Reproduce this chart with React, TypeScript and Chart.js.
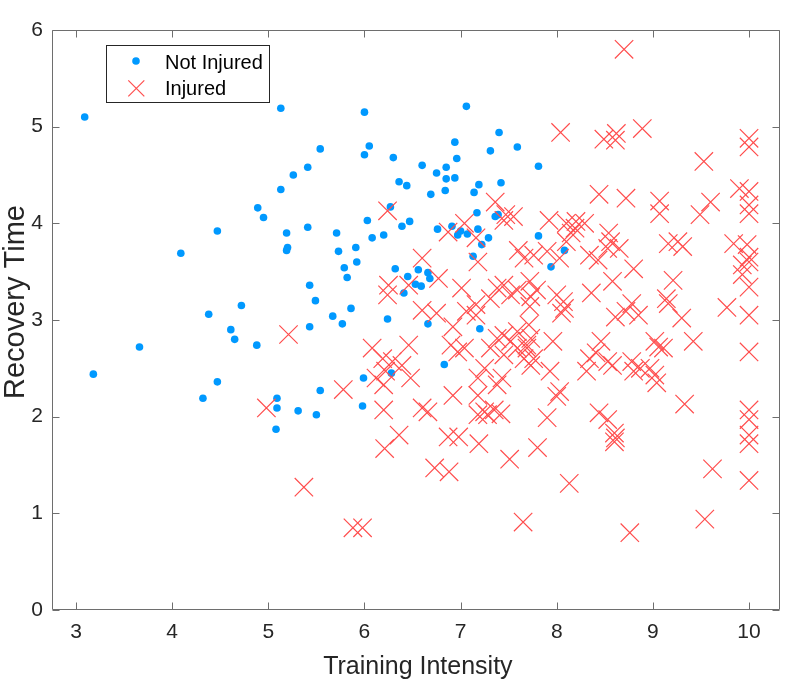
import React, { useEffect, useRef } from 'react';
import { Chart, registerables } from 'chart.js';

Chart.register(...registerables);

// Training intensity / recovery time of athletes who stayed healthy
const notInjuredX = [
  3.09, 5.13, 5.26, 5.13, 4.89, 4.95, 6.0, 7.06, 7.4, 6.05, 6.0, 5.54, 5.41, 6.94, 6.96, 7.31, 7.59,
  6.3, 6.6, 6.75, 6.85, 6.85, 6.94, 6.36, 6.44, 6.69, 6.84, 7.14, 7.19, 7.42, 6.27, 6.03, 6.47,
  7.17, 7.36, 7.39, 5.41, 6.39, 4.47, 5.19, 5.2, 5.19, 4.09, 4.72, 4.38, 4.61, 4.65, 4.88, 3.66,
  3.18, 4.47, 4.32, 5.09, 5.09, 5.31, 5.08, 5.71, 6.08, 6.2, 5.73, 5.91, 5.92, 5.79, 5.82, 5.43,
  5.49, 5.67, 5.77, 5.86, 5.43, 6.24, 6.32, 6.45, 6.56, 6.66, 6.68, 6.53, 6.59, 6.41, 6.66, 6.83,
  6.28, 5.99, 5.54, 5.5, 5.98, 6.76, 6.91, 6.97, 7.0, 7.07, 7.18, 7.29, 7.22, 7.13, 7.2, 7.81,
  8.08, 7.94, 7.81,
];
const notInjuredY = [
  5.1, 5.19, 4.5, 4.35, 4.16, 4.06, 5.15, 5.21, 4.94, 4.8, 4.71, 4.77, 4.58, 4.84, 4.67, 4.75, 4.79,
  4.68, 4.6, 4.52, 4.58, 4.46, 4.47, 4.43, 4.39, 4.3, 4.34, 4.32, 4.4, 4.42, 4.17, 4.03, 4.02,
  4.11, 4.07, 4.09, 3.96, 3.97, 3.92, 3.9, 3.75, 3.72, 3.69, 3.15, 3.06, 2.9, 2.8, 2.74, 2.72,
  2.44, 2.36, 2.19, 2.19, 2.09, 2.06, 1.87, 3.9, 3.85, 3.88, 3.71, 3.75, 3.6, 3.54, 3.44, 3.36,
  3.2, 3.04, 2.96, 3.12, 2.93, 3.01, 3.53, 3.45, 3.52, 3.49, 3.43, 3.37, 3.35, 3.28, 2.96, 2.54,
  2.45, 2.4, 2.27, 2.02, 2.11, 3.94, 3.97, 3.88, 3.92, 3.89, 3.94, 3.85, 3.78, 3.66, 2.91, 3.87,
  3.72, 3.55, 4.59,
];

// Athletes who got injured
const injuredX = [
  6.24, 7.36, 7.47, 7.55, 8.7, 8.04, 8.49, 8.62, 8.61, 8.89, 10.0, 10.0, 9.53, 8.44, 8.72, 9.07,
  9.07, 9.6, 9.49, 9.9, 10.0, 10.0, 10.0, 7.92, 8.1, 8.2, 8.29, 5.21, 4.98, 5.37, 6.6, 6.77, 6.25,
  6.24, 6.46, 6.6, 6.75, 7.01, 7.16, 7.16, 6.92, 6.87, 7.04, 7.16, 7.18, 7.45, 7.6, 7.38, 7.45,
  7.52, 7.31, 7.59, 7.72, 6.97, 6.9, 7.04, 7.38, 7.45, 7.52, 7.59, 7.31, 7.45, 7.59, 7.69, 7.25,
  7.18, 7.43, 7.38, 7.66, 6.08, 6.19, 6.29, 6.22, 6.39, 6.46, 6.48, 6.12, 6.2, 5.78, 6.92, 7.18,
  6.6, 6.66, 6.2, 7.25, 7.35, 7.18, 7.28, 7.42, 6.36, 6.21, 6.87, 6.98, 7.19, 6.73, 6.88, 7.51,
  5.88, 5.98, 7.65, 7.8, 7.9, 8.44, 8.53, 8.6, 8.61, 8.6, 9.33, 10.0, 10.0, 10.0, 10.0, 8.13, 9.62,
  10.0, 9.54, 8.76, 8.19, 8.15, 8.1, 7.9, 8.03, 8.34, 8.43, 8.54, 8.56, 8.65, 8.53, 8.8, 8.58,
  8.36, 7.79, 7.73, 8.07, 8.08, 8.05, 8.0, 9.16, 9.26, 9.31, 9.21, 9.14, 9.16, 9.3, 8.78, 8.72,
  8.85, 8.61, 9.77, 9.84, 9.98, 10.0, 9.93, 10.0, 9.93, 10.0, 10.0, 10.0, 9.42, 9.02, 9.11, 9.06,
  8.8, 8.87, 8.97, 9.02, 9.04, 8.78, 8.46, 8.41, 8.34, 8.53, 8.58, 8.31, 7.96, 7.73, 7.69, 7.76,
  7.73, 7.93, 8.03, 8.0, 7.66, 7.76, 7.72, 7.71, 7.06,
];
const injuredY = [
  4.13, 4.22, 4.09, 4.07, 5.8, 4.94, 4.87, 4.93, 4.86, 4.98, 4.88, 4.79, 4.64, 4.3, 4.26, 4.23,
  4.1, 4.22, 4.09, 4.36, 4.33, 4.19, 4.1, 4.03, 4.0, 4.02, 4.0, 2.85, 2.09, 1.27, 3.64, 3.43, 3.36,
  3.26, 3.36, 3.1, 3.07, 3.33, 3.16, 3.05, 2.93, 3.91, 4.0, 3.85, 3.6, 4.03, 3.72, 3.33, 3.36,
  3.26, 3.22, 3.31, 3.4, 2.67, 2.74, 2.71, 2.81, 2.84, 2.78, 2.88, 2.71, 2.64, 2.71, 2.74, 2.5,
  2.4, 2.4, 2.33, 2.6, 2.71, 2.6, 2.57, 2.47, 2.53, 2.74, 2.4, 2.4, 2.33, 2.28, 2.22, 2.22,
  2.09, 2.05, 2.07, 2.05, 2.07, 2.02, 2.02, 2.03, 1.81, 1.67, 1.79, 1.79, 1.72, 1.47, 1.43, 1.56,
  0.85, 0.85, 0.91, 1.68, 1.99, 2.04, 1.97, 1.83, 1.78, 1.74, 2.13, 2.07, 1.97, 1.81, 1.72, 1.31, 1.46,
  1.34, 0.94, 0.8, 3.95, 3.9, 3.81, 3.71, 3.64, 3.67, 3.62, 3.9, 3.81, 3.74, 3.74, 3.53, 3.4,
  3.28, 3.31, 3.24, 3.19, 3.12, 3.07, 3.26, 3.79, 3.81, 3.76, 3.41, 3.22, 3.17, 3.02, 3.17, 3.09,
  3.05, 3.03, 3.13, 3.79, 3.78, 3.65, 3.57, 3.6, 3.47, 3.34, 3.05, 2.67, 2.78, 2.78, 2.71, 2.72,
  2.47, 2.5, 2.5, 2.43, 2.35, 2.57, 2.78, 2.66, 2.6, 2.57, 2.53, 2.47, 2.78, 2.81, 2.71, 2.6,
  2.53, 2.47, 2.26, 2.21, 3.64, 3.67, 3.14, 2.95, 3.09,
];

const xTicks = [3, 4, 5, 6, 7, 8, 9, 10];
const yTicks = [0, 1, 2, 3, 4, 5, 6];
const seriesNames = ['Not Injured', 'Injured'];
const xTitle = 'Training Intensity';
const yTitle = 'Recovery Time';

const FONT = "'Liberation Sans', Arial, Helvetica, sans-serif";
const TEXT = '#262626';
const BLUE = '#0099ff';
const RED = 'rgb(255, 78, 78)';

const toPoints = (xs: number[], ys: number[]) => xs.map((x, i) => ({ x, y: ys[i] }));

// Boxed axes with inward tick marks, axis titles and an inset legend
const framePlugin = {
  id: 'frame',
  afterDatasetsDraw(chart: any) {
    const { ctx, chartArea, scales } = chart;
    const { left, right, top, bottom } = chartArea;
    const L = Math.round(left) + 0.5;
    const R = Math.round(right) - 0.5;
    const T = Math.round(top) + 0.5;
    const B = Math.round(bottom) - 0.5;
    const tl = 7;
    ctx.save();
    ctx.strokeStyle = '#6e6e6e';
    ctx.lineWidth = 1;
    ctx.beginPath();
    ctx.rect(L, T, R - L, B - T);
    for (const v of xTicks) {
      const px = Math.round(scales.x.getPixelForValue(v)) + 0.5;
      ctx.moveTo(px, B);
      ctx.lineTo(px, B - tl);
      ctx.moveTo(px, T);
      ctx.lineTo(px, T + tl);
    }
    for (const v of yTicks) {
      const py = Math.round(scales.y.getPixelForValue(v)) + 0.5;
      ctx.moveTo(L, py);
      ctx.lineTo(L + tl, py);
      ctx.moveTo(R, py);
      ctx.lineTo(R - tl, py);
    }
    ctx.stroke();

    // axis titles
    ctx.fillStyle = TEXT;
    ctx.font = `25px ${FONT}`;
    ctx.textAlign = 'center';
    ctx.textBaseline = 'alphabetic';
    ctx.fillText(xTitle, (left + right) / 2 + 2, 674);
    ctx.save();
    ctx.translate(24, 302);
    ctx.rotate(-Math.PI / 2);
    ctx.font = `29px ${FONT}`;
    ctx.fillText(yTitle, 0, 0);
    ctx.restore();

    // legend
    const bx = 106.5, by = 45.5, bw = 163, bh = 57;
    ctx.fillStyle = '#ffffff';
    ctx.fillRect(bx, by, bw, bh);
    ctx.strokeStyle = TEXT;
    ctx.lineWidth = 1;
    ctx.strokeRect(bx, by, bw, bh);

    ctx.fillStyle = BLUE;
    ctx.beginPath();
    ctx.arc(136, 61, 3.8, 0, Math.PI * 2);
    ctx.fill();

    ctx.strokeStyle = RED;
    ctx.lineWidth = 1.2;
    ctx.beginPath();
    const cx = 136.3, cy = 88.3, h = 8;
    ctx.moveTo(cx - h, cy - h);
    ctx.lineTo(cx + h, cy + h);
    ctx.moveTo(cx + h, cy - h);
    ctx.lineTo(cx - h, cy + h);
    ctx.stroke();

    ctx.fillStyle = '#000000';
    ctx.font = `20px ${FONT}`;
    ctx.textAlign = 'left';
    ctx.fillText(seriesNames[0], 165, 69);
    ctx.fillText(seriesNames[1], 165, 95);
    ctx.restore();
  },
};

export default function App() {
  const canvasRef = useRef<HTMLCanvasElement | null>(null);

  useEffect(() => {
    const canvas = canvasRef.current;
    if (!canvas) return;
    const chart = new Chart(canvas, {
      type: 'scatter',
      data: {
        datasets: [
          {
            label: seriesNames[0],
            data: toPoints(notInjuredX, notInjuredY),
            pointStyle: 'circle',
            pointRadius: 3.8,
            pointBackgroundColor: BLUE,
            pointBorderColor: BLUE,
            pointBorderWidth: 0,
            borderColor: BLUE,
            backgroundColor: BLUE,
            order: 1,
          },
          {
            label: seriesNames[1],
            data: toPoints(injuredX, injuredY),
            pointStyle: 'crossRot',
            pointRadius: 13,
            pointBorderColor: RED,
            pointBackgroundColor: RED,
            pointBorderWidth: 1.2,
            borderColor: RED,
            backgroundColor: RED,
            order: 0,
          },
        ],
      },
      options: {
        responsive: false,
        animation: false,
        events: [],
        layout: { padding: { top: 30, right: 4, left: 0, bottom: 0 } },
        plugins: { legend: { display: false }, tooltip: { enabled: false } },
        scales: {
          x: {
            type: 'linear',
            min: 2.75,
            max: 10.32,
            grid: { display: false, drawTicks: false },
            border: { display: false },
            afterBuildTicks: (s: any) => {
              s.ticks = xTicks.map((v) => ({ value: v }));
            },
            afterFit: (s: any) => {
              s.height = 71;
            },
            ticks: {
              padding: 10,
              color: TEXT,
              font: { family: FONT, size: 21 },
              maxRotation: 0,
              autoSkip: false,
            },
          },
          y: {
            type: 'linear',
            min: 0,
            max: 6,
            grid: { display: false, drawTicks: false },
            border: { display: false },
            afterBuildTicks: (s: any) => {
              s.ticks = yTicks.map((v) => ({ value: v }));
            },
            afterFit: (s: any) => {
              s.width = 52;
            },
            ticks: {
              padding: 9,
              color: TEXT,
              font: { family: FONT, size: 21 },
              autoSkip: false,
            },
          },
        },
      },
      plugins: [framePlugin],
    });
    return () => chart.destroy();
  }, []);

  return (
    <div style={{ position: 'fixed', left: 0, top: 0, width: 794, height: 681, background: '#ffffff' }}>
      <canvas ref={canvasRef} width={794} height={681} style={{ display: 'block' }} />
    </div>
  );
}
